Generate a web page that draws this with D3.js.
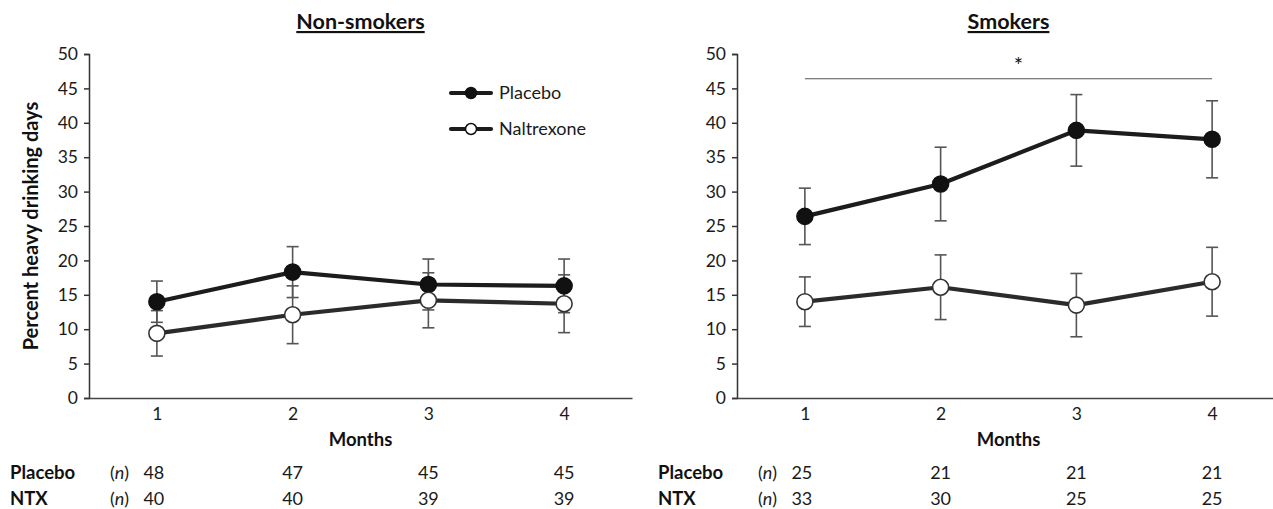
<!DOCTYPE html>
<html>
<head>
<meta charset="utf-8">
<script src="https://cdn.jsdelivr.net/npm/d3@7"></script>
<style>
  body { margin: 0; background: #fff; }
  svg { display: block; font-family: Lato, "Open Sans", sans-serif; }
</style>
</head>
<body>
<svg id="chart" width="1273" height="509"></svg>
<script>
// months on the x axis
const months = [1, 2, 3, 4];
const yTicks = [0, 5, 10, 15, 20, 25, 30, 35, 40, 45, 50];

// Non-smokers: mean and SEM
const nsPlacebo = [14.0, 18.3, 16.5, 16.3];
const nsPlaceboErr = [3.0, 3.7, 3.7, 3.9];
const nsNaltrexone = [9.4, 12.1, 14.2, 13.7];
const nsNaltrexoneErr = [3.3, 4.2, 4.0, 4.2];

// Smokers: mean and SEM
const smPlacebo = [26.4, 31.1, 38.9, 37.6];
const smPlaceboErr = [4.1, 5.35, 5.2, 5.6];
const smNaltrexone = [14.0, 16.1, 13.5, 16.9];
const smNaltrexoneErr = [3.6, 4.7, 4.6, 5.0];

// sample sizes under each panel
const nsPlaceboN = [48, 47, 45, 45];
const nsNtxN = [40, 40, 39, 39];
const smPlaceboN = [25, 21, 21, 21];
const smNtxN = [33, 30, 25, 25];

const sigLevel = 46.4;

const svg = d3.select("#chart");

const yScale = d3.scaleLinear().domain([0, 50]).range([398, 54]);

function drawPanel(opts) {
  const xScale = d3.scaleLinear().domain([0.5, 4.5]).range([opts.x0, opts.x0 + 543]);
  const g = svg.append("g");

  // title (bold, underlined)
  g.append("text")
    .attr("x", xScale(2.5) + opts.titleDx)
    .attr("y", 29)
    .attr("text-anchor", "middle")
    .attr("font-size", 21.5)
    .attr("font-weight", "bold")
    .attr("text-decoration", "underline")
    .attr("fill", "#111")
    .text(opts.title);

  // y axis
  const yAxis = g.append("g")
    .attr("transform", "translate(" + opts.x0 + ",0)")
    .call(d3.axisLeft(yScale).tickValues(yTicks).tickSize(5).tickPadding(6));
  yAxis.selectAll("text").attr("font-size", 17.5).attr("fill", "#1a1a1a").attr("font-family", "Lato, sans-serif");
  yAxis.selectAll("line, path").attr("stroke", "#333").attr("stroke-width", 1.5);

  // x axis
  const xAxis = g.append("g")
    .attr("transform", "translate(0," + yScale(0) + ")")
    .call(d3.axisBottom(xScale).tickValues(months).tickSize(0).tickPadding(10).tickSizeOuter(0).tickFormat(d3.format("d")));
  xAxis.selectAll("text").attr("font-size", 17.5).attr("fill", "#1a1a1a").attr("font-family", "Lato, sans-serif");
  xAxis.select("path").attr("stroke", "#444").attr("stroke-width", 1.5);

  g.append("text")
    .attr("x", xScale(2.5) + opts.titleDx)
    .attr("y", 446)
    .attr("text-anchor", "middle")
    .attr("font-size", 18.5)
    .attr("font-weight", "bold")
    .attr("fill", "#111")
    .text("Months");

  const series = [
    { vals: opts.placebo, err: opts.placeboErr, fill: "#111", stroke: "#111", line: "#1c1c1c" },
    { vals: opts.naltrexone, err: opts.naltrexoneErr, fill: "#fff", stroke: "#333", line: "#2b2b2b" }
  ];

  // error bars
  series.forEach(s => {
    const eg = g.append("g").attr("stroke", "#555").attr("stroke-width", 1.6);
    months.forEach((m, i) => {
      const cx = xScale(m);
      const hi = yScale(s.vals[i] + s.err[i]);
      const lo = yScale(s.vals[i] - s.err[i]);
      eg.append("line").attr("x1", cx).attr("x2", cx).attr("y1", hi).attr("y2", lo);
      eg.append("line").attr("x1", cx - 6).attr("x2", cx + 6).attr("y1", hi).attr("y2", hi);
      eg.append("line").attr("x1", cx - 6).attr("x2", cx + 6).attr("y1", lo).attr("y2", lo);
    });
  });

  const line = d3.line()
    .x((d, i) => xScale(months[i]))
    .y(d => yScale(d));

  series.forEach(s => {
    g.append("path")
      .datum(s.vals)
      .attr("d", line)
      .attr("fill", "none")
      .attr("stroke", s.line)
      .attr("stroke-width", 4.2)
      .attr("stroke-linejoin", "round");
  });

  series.forEach(s => {
    g.append("g").selectAll("circle")
      .data(s.vals)
      .enter()
      .append("circle")
      .attr("cx", (d, i) => xScale(months[i]))
      .attr("cy", d => yScale(d))
      .attr("r", 8)
      .attr("fill", s.fill)
      .attr("stroke", s.stroke)
      .attr("stroke-width", 1.6);
  });

  // significance bracket
  if (opts.sig) {
    g.append("line")
      .attr("x1", xScale(1)).attr("x2", xScale(4))
      .attr("y1", yScale(sigLevel)).attr("y2", yScale(sigLevel))
      .attr("stroke", "#555").attr("stroke-width", 1.2);
    g.append("text")
      .attr("x", xScale(2.5) + 10)
      .attr("y", yScale(sigLevel) - 6)
      .attr("text-anchor", "middle")
      .attr("font-size", 22)
      .attr("fill", "#111")
      .text("*");
  }

  // table of n
  const rows = [
    { label: "Placebo", n: opts.placeboN, y: 479 },
    { label: "NTX", n: opts.ntxN, y: 505 }
  ];
  rows.forEach(r => {
    g.append("text")
      .attr("x", opts.x0 - 79)
      .attr("y", r.y)
      .attr("font-size", 18.5)
      .attr("font-weight", "bold")
      .attr("fill", "#111")
      .text(r.label);
    g.append("text")
      .attr("x", xScale(1) - 47)
      .attr("y", r.y)
      .attr("font-size", 18)
      .attr("fill", "#1a1a1a")
      .html("(<tspan font-style=\"italic\">n</tspan>)");
    g.append("g").selectAll("text")
      .data(r.n)
      .enter()
      .append("text")
      .attr("x", (d, i) => xScale(months[i]) - (i === 0 ? 3 : 0))
      .attr("y", r.y)
      .attr("text-anchor", "middle")
      .attr("font-size", 18)
      .attr("fill", "#1a1a1a")
      .text(d => d);
  });

  // legend
  if (opts.legend) {
    const items = [
      { label: "Placebo", fill: "#111", y: 93 },
      { label: "Naltrexone", fill: "#fff", y: 129 }
    ];
    items.forEach(it => {
      g.append("line")
        .attr("x1", 451).attr("x2", 491)
        .attr("y1", it.y).attr("y2", it.y)
        .attr("stroke", "#1c1c1c").attr("stroke-width", 4.2)
        .attr("stroke-linecap", "round");
      g.append("circle")
        .attr("cx", 471).attr("cy", it.y).attr("r", 5.5)
        .attr("fill", it.fill).attr("stroke", "#111").attr("stroke-width", 1.5);
      g.append("text")
        .attr("x", 499).attr("y", it.y + 6)
        .attr("font-size", 18)
        .attr("fill", "#1a1a1a")
        .text(it.label);
    });
  }
}

drawPanel({
  x0: 89, title: "Non-smokers", titleDx: 0,
  placebo: nsPlacebo, placeboErr: nsPlaceboErr,
  naltrexone: nsNaltrexone, naltrexoneErr: nsNaltrexoneErr,
  placeboN: nsPlaceboN, ntxN: nsNtxN,
  legend: true, sig: false
});

drawPanel({
  x0: 737, title: "Smokers", titleDx: 0,
  placebo: smPlacebo, placeboErr: smPlaceboErr,
  naltrexone: smNaltrexone, naltrexoneErr: smNaltrexoneErr,
  placeboN: smPlaceboN, ntxN: smNtxN,
  legend: false, sig: true
});

// shared y label
svg.append("text")
  .attr("transform", "translate(38,226) rotate(-90)")
  .attr("text-anchor", "middle")
  .attr("font-size", 20)
  .attr("font-weight", "bold")
  .attr("fill", "#111")
  .text("Percent heavy drinking days");
</script>
</body>
</html>
